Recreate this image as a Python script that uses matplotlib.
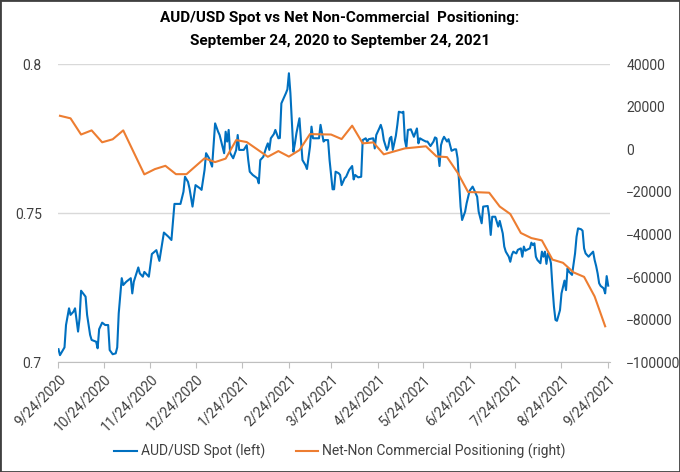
import matplotlib
matplotlib.use('Agg')
import matplotlib.pyplot as plt
import pandas as pd
from matplotlib.lines import Line2D
from matplotlib.patches import Rectangle

plt.rcParams['font.family'] = ['Roboto', 'DejaVu Sans']

# AUD/USD spot: days after 9/24/2020 and price (left axis)
spot_day = [
    0, 1, 4, 5, 7, 8, 10, 11, 13, 14, 15, 18, 19, 21, 22, 25, 26, 27, 29, 31,
    33, 34, 36, 38, 39, 40, 42, 43, 45, 48, 49, 50, 53, 54, 56, 57, 60, 62, 65,
    67, 70, 73, 75, 77, 81, 83, 84, 86, 87, 89, 91, 94, 95, 97, 98, 100, 102,
    104, 106, 107, 110, 111, 112, 113, 114, 116, 118, 119, 120, 123, 125, 126, 127,
    129, 132, 133, 134, 136, 138, 139, 140, 141, 143, 144, 146, 147, 148, 151, 152,
    153, 154, 156, 157, 158, 160, 161, 162, 164, 165, 167, 168, 169, 171, 173, 174,
    176, 177, 179, 180, 182, 183, 184, 186, 187, 188, 190,
    191, 193, 195, 196, 197, 199, 201, 202, 204, 205, 206, 209, 210, 211, 213, 214,
    215, 216, 218, 219, 220, 221, 222, 224, 225, 226, 228, 229, 230, 231, 232, 234,
    236, 238, 239, 240, 242, 244, 245, 247, 249, 250, 251, 253, 254, 255, 256, 258,
    259, 260, 261, 263, 264, 265, 266, 267, 268, 270, 271, 273, 275, 276, 278, 279,
    281, 282, 285, 286, 287, 288, 290, 292, 293, 295, 296, 297, 299, 300, 301, 302,
    304, 305, 307, 308, 309, 310, 311, 313, 314, 315, 316,
    317, 318, 320, 321, 322, 323, 324, 325, 326, 327, 328, 329, 330, 331, 333, 334,
    336, 337, 338, 339, 341, 343, 344, 345, 347, 348, 349, 350, 352, 353, 355, 356,
    357, 358, 359, 360, 362, 363, 364, 365,
]
spot_values = [
    0.7044, 0.7024, 0.7050, 0.7125, 0.7181, 0.7159, 0.7170, 0.7181, 0.7103, 0.7147,
    0.7240, 0.7220, 0.7159, 0.7092, 0.7075, 0.7069, 0.7047, 0.7111, 0.7133, 0.7125,
    0.7125, 0.7041, 0.7027, 0.7030, 0.7050, 0.7164, 0.7282, 0.7259, 0.7270, 0.7282,
    0.7231, 0.7270, 0.7318, 0.7298, 0.7287, 0.7303, 0.7287, 0.7363, 0.7376,
    0.7340, 0.7435, 0.7421, 0.7410, 0.7531, 0.7531, 0.7572, 0.7622, 0.7605, 0.7583,
    0.7522, 0.7594, 0.7583, 0.7578, 0.7645, 0.7701, 0.7684, 0.7656, 0.7801, 0.7773,
    0.7762, 0.7701, 0.7773, 0.7740, 0.7779, 0.7701, 0.7684, 0.7712, 0.7762, 0.7712,
    0.7712, 0.7728, 0.7678, 0.7639,
    0.7628, 0.7617, 0.7600, 0.7678, 0.7689, 0.7721, 0.7734, 0.7712, 0.7751, 0.7765,
    0.7779, 0.7751, 0.7752, 0.7868, 0.7902, 0.7915, 0.7969, 0.7902, 0.7706, 0.7734,
    0.7768, 0.7818, 0.7745, 0.7678, 0.7661, 0.7648, 0.7723, 0.7790, 0.7751, 0.7751,
    0.7751, 0.7796, 0.7740, 0.7745, 0.7745, 0.7678, 0.7580, 0.7580, 0.7639, 0.7634,
    0.7628, 0.7594, 0.7617,
    0.7622, 0.7645, 0.7658, 0.7613, 0.7628, 0.7620, 0.7622, 0.7745, 0.7751, 0.7740,
    0.7748, 0.7751, 0.7717, 0.7762, 0.7784, 0.7796, 0.7779, 0.7745, 0.7712, 0.7723,
    0.7751, 0.7756, 0.7712, 0.7759, 0.7796, 0.7840, 0.7837, 0.7840, 0.7745, 0.7721,
    0.7779, 0.7781, 0.7756, 0.7784, 0.7734, 0.7751, 0.7745, 0.7740, 0.7740, 0.7725,
    0.7740, 0.7754, 0.7751, 0.7658, 0.7728, 0.7745, 0.7756, 0.7740, 0.7748, 0.7728,
    0.7709, 0.7714, 0.7714, 0.7684, 0.7600, 0.7522, 0.7477, 0.7505, 0.7533, 0.7575,
    0.7589, 0.7578, 0.7555, 0.7505, 0.7466, 0.7522, 0.7524, 0.7490, 0.7427, 0.7488,
    0.7488, 0.7455, 0.7474, 0.7432, 0.7388, 0.7371, 0.7354, 0.7337, 0.7360, 0.7371,
    0.7365, 0.7377, 0.7382, 0.7354, 0.7388, 0.7374, 0.7377, 0.7382, 0.7401, 0.7393,
    0.7399,
    0.7354, 0.7343, 0.7332, 0.7371, 0.7354, 0.7371, 0.7330, 0.7365, 0.7354, 0.7332,
    0.7253, 0.7186, 0.7142, 0.7139, 0.7175, 0.7231, 0.7274, 0.7242, 0.7315, 0.7304,
    0.7293, 0.7365, 0.7421, 0.7449, 0.7446, 0.7441, 0.7382, 0.7365, 0.7354, 0.7360,
    0.7371, 0.7343, 0.7323, 0.7298, 0.7265, 0.7256, 0.7248, 0.7231, 0.7289, 0.7257,
]

# Net non-commercial positioning, weekly (right axis)
pos_dates = (list(pd.date_range('2020-09-25', periods=13, freq='7D'))
             + list(pd.date_range('2020-12-30', periods=39, freq='7D')))
pos_values = [
    15700, 14500, 6900, 8850, 3260, 4670, 8850, -1500, -11800, -9330,
    -7780, -11700, -11700, -4250, -6040, -4400, 4300, 3360, -70, -3550,
    -870, -3460, -400, 7100, 7000, 6900, 4770, 11060, 2750, 3200,
    -2400, -1000, 400, 870, 1380, -3360, -3700, -11000, -20100, -20200,
    -20400, -26900, -30400, -39300, -41700, -42800, -51800, -53300, -57800, -59900,
    -69100, -83100,
]

tick_dates = pd.date_range('2020-09-01', periods=13, freq='MS') + pd.Timedelta(days=23)
tick_labels = [f'{d.month}/{d.day}/{d.year}' for d in tick_dates]

start = pd.Timestamp('2020-09-24')
spot_dates = start + pd.to_timedelta(spot_day, unit='D')

text_color = '#404040'
blue = '#0070C0'
orange = '#ED7D31'

fig = plt.figure(figsize=(6.8, 4.72), dpi=100)
ax = fig.add_axes([0.086, 0.2324, 0.8106, 0.632])

ax.plot(spot_dates, spot_values, color=blue, lw=1.5)
ax.set_ylim(0.7, 0.8)
ax.set_yticks([0.7, 0.75, 0.8])
ax.set_yticklabels(['0.7', '0.75', '0.8'])
ax.set_xlim(start, pd.Timestamp('2021-09-25'))
ax.set_xticks(tick_dates)
ax.set_xticklabels(tick_labels, rotation=45, ha='right', rotation_mode='anchor')
ax.yaxis.grid(True, color='#d9d9d9', lw=1)
ax.set_axisbelow(True)

ax2 = ax.twinx()
ax2.plot(pos_dates, pos_values, color=orange, lw=1.5)
ax2.set_ylim(-100000, 40000)
ax2.set_yticks(range(-100000, 40001, 20000))

for a in (ax, ax2):
    for side in ('top', 'left', 'right'):
        a.spines[side].set_visible(False)
    a.spines['bottom'].set_color('#bfbfbf')
ax2.spines['bottom'].set_visible(False)

ax.tick_params(axis='x', colors='#bfbfbf', length=4, width=0.8, labelcolor=text_color,
               labelsize=10, pad=3)
ax.tick_params(axis='y', length=0, labelcolor=text_color, labelsize=10, pad=12)
ax2.tick_params(axis='y', length=0, labelcolor=text_color, labelsize=10, pad=12)

fig.text(0.5, 0.962, 'AUD/USD Spot vs Net Non-Commercial  Positioning:',
         ha='center', va='center', fontsize=11, fontweight='bold', color='black')
fig.text(0.5, 0.914, 'September 24, 2020 to September 24, 2021',
         ha='center', va='center', fontsize=11, fontweight='bold', color='black')

handles = [Line2D([], [], color=blue, lw=1.5), Line2D([], [], color=orange, lw=1.5)]
fig.legend(handles, ['AUD/USD Spot (left)', 'Net-Non Commercial Positioning (right)'],
           loc='center', bbox_to_anchor=(0.5, 0.044), ncol=2, frameon=False,
           handlelength=1.6, handletextpad=0.3, columnspacing=2.2,
           labelcolor=text_color, fontsize=10)

fig.patches.append(Rectangle((0, 0), 1, 1, transform=fig.transFigure, fill=False,
                             edgecolor='#404040', lw=2))

fig.savefig('out.png', dpi=100)
